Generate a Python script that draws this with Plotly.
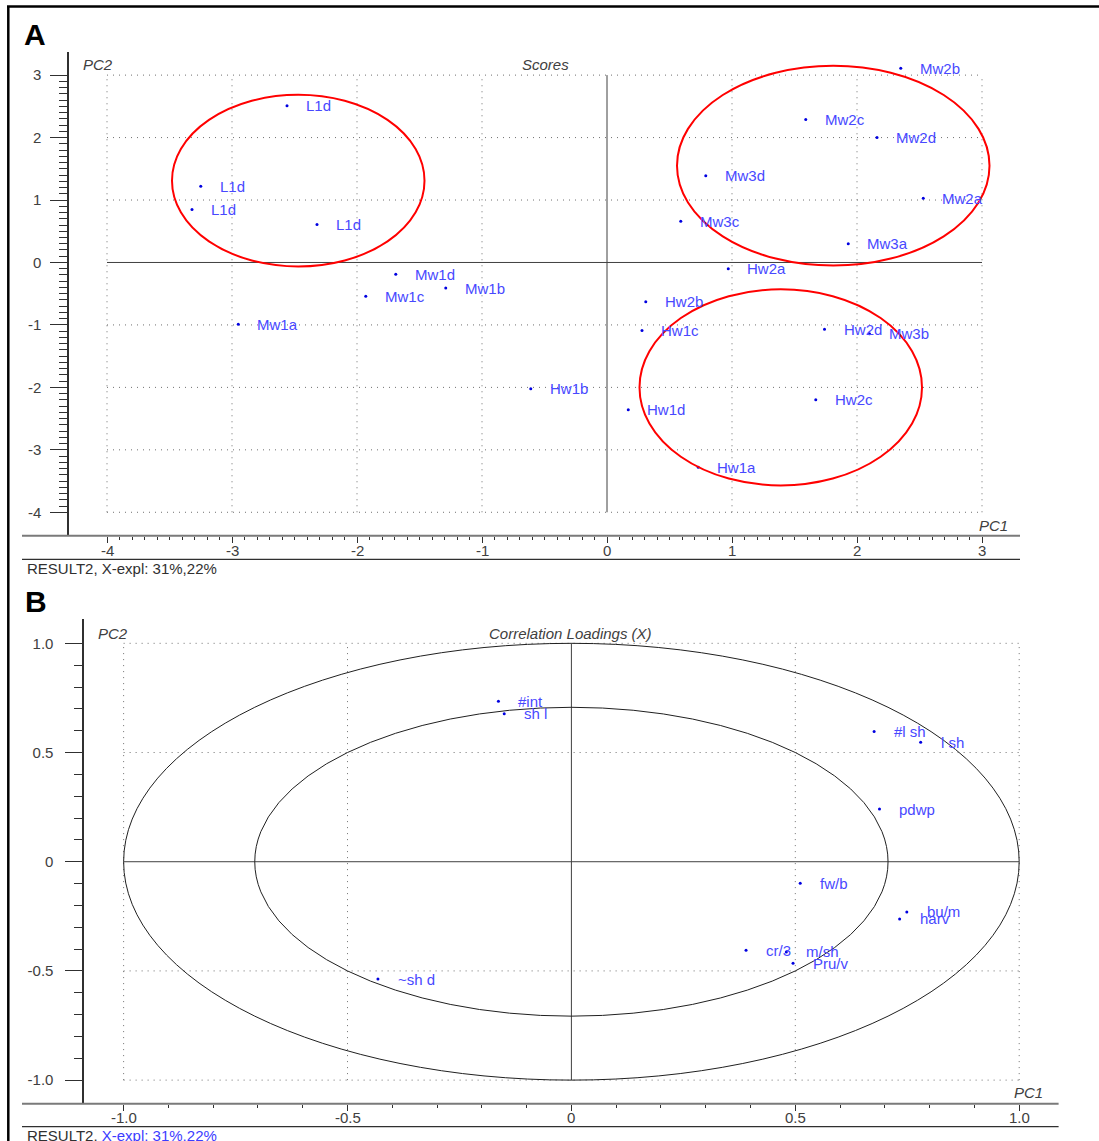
import plotly.graph_objects as go

W, H = 1099, 1141

# ---------------- Panel A: Scores ----------------
score_labels = ["L1d", "L1d", "L1d", "L1d", "Mw1d", "Mw1b", "Mw1c", "Mw1a", "Hw1b",
                "Mw2b", "Mw2c", "Mw2d", "Mw3d", "Mw2a", "Mw3c", "Mw3a", "Hw2a",
                "Hw2b", "Hw1c", "Hw2d", "Mw3b", "Hw2c", "Hw1d", "Hw1a"]
score_pc1 = [-2.56, -3.25, -3.32, -2.32, -1.69, -1.29, -1.93, -2.95, -0.61,
             2.35, 1.59, 2.16, 0.79, 2.53, 0.59, 1.93, 0.97,
             0.31, 0.28, 1.74, 2.10, 1.67, 0.17, 0.73]
score_pc2 = [2.51, 1.22, 0.85, 0.61, -0.19, -0.41, -0.54, -0.99, -2.02,
             3.11, 2.29, 2.00, 1.39, 1.03, 0.66, 0.30, -0.10,
             -0.63, -1.09, -1.07, -1.14, -2.20, -2.36, -3.28]

# group ellipses (centre / semi-axes, in score units)
group_cx = [-2.47, 1.81, 1.39]
group_cy = [1.31, 1.55, -2.00]
group_rx = [1.01, 1.25, 1.13]
group_ry = [1.375, 1.60, 1.57]

a_ticks = [-4, -3, -2, -1, 0, 1, 2, 3]
a_ticktext = ["-4", "-3", "-2", "-1", "0", "1", "2", "3"]

# ---------------- Panel B: Correlation loadings ----------------
load_labels = ["#int", "sh l", "#l sh", "l sh", "pdwp", "fw/b", "bu/m", "harv",
               "cr/3", "m/sh", "Pru/v", "~sh d"]
load_pc1 = [-0.163, -0.150, 0.676, 0.780, 0.688, 0.511, 0.749, 0.733,
            0.390, 0.480, 0.495, -0.432]
load_pc2 = [0.735, 0.678, 0.596, 0.547, 0.241, -0.099, -0.230, -0.262,
            -0.405, -0.413, -0.465, -0.537]
circle_radii = [1.0, 0.7071]

b_ticks = [-1.0, -0.5, 0, 0.5, 1.0]
b_ticktext = ["-1.0", "-0.5", "0", "0.5", "1.0"]

explained = "X-expl: 31%,22%"

# ---------------- styling ----------------
FONT = "Arial, Liberation Sans, Arimo, sans-serif"
LABEL_BLUE = "#4848ff"
DOT_BLUE = "#0000e0"
TXT = "#404040"


def px(x):
    return x / W


def py(y):
    return 1 - y / H


fig = go.Figure()

fig.add_trace(go.Scatter(x=score_pc1, y=score_pc2, mode="markers",
                         marker=dict(size=3, color=DOT_BLUE),
                         xaxis="x", yaxis="y", hoverinfo="skip", showlegend=False))
fig.add_trace(go.Scatter(x=load_pc1, y=load_pc2, mode="markers",
                         marker=dict(size=3, color=DOT_BLUE),
                         xaxis="x2", yaxis="y2", hoverinfo="skip", showlegend=False))

shapes = []
annotations = []

# ---- grid + zero lines (bounded to tick range) ----
def grid(ticks, xref, yref):
    lo, hi = min(ticks), max(ticks)
    for t in ticks:
        if t == 0:
            style = dict(color="#404040", width=1)
        else:
            style = dict(color="#707070", width=1, dash="1px,5px")
        shapes.append(dict(type="line", xref=xref, yref=yref, x0=t, x1=t, y0=lo, y1=hi,
                           line=style, layer="below"))
        shapes.append(dict(type="line", xref=xref, yref=yref, x0=lo, x1=hi, y0=t, y1=t,
                           line=style, layer="below"))


grid(a_ticks, "x", "y")
grid(b_ticks, "x2", "y2")

# ---- ellipses ----
for cx, cy, rx, ry in zip(group_cx, group_cy, group_rx, group_ry):
    shapes.append(dict(type="circle", xref="x", yref="y",
                       x0=cx - rx, x1=cx + rx, y0=cy - ry, y1=cy + ry,
                       line=dict(color="#ff0000", width=2)))
for r in circle_radii:
    shapes.append(dict(type="circle", xref="x2", yref="y2",
                       x0=-r, x1=r, y0=-r, y1=r,
                       line=dict(color="#202020", width=1)))

# ---- frame and baseline rules ----
def hline(y, x0, x1, color, width):
    shapes.append(dict(type="line", xref="paper", yref="paper",
                       x0=px(x0), x1=px(x1), y0=py(y), y1=py(y),
                       line=dict(color=color, width=width)))


hline(6.5, 7, 1099, "#000000", 2.5)
shapes.append(dict(type="line", xref="paper", yref="paper",
                   x0=px(8.3), x1=px(8.3), y0=py(6), y1=0,
                   line=dict(color="#000000", width=2.5)))
hline(535.7, 22, 1020, "#7a7a7a", 2)
hline(559.3, 22, 1020, "#303030", 1.2)
hline(1103.7, 22, 1058.6, "#7a7a7a", 2)
hline(1126.7, 22, 1058.6, "#303030", 1.2)

# ---- point labels ----
for lab, x, y in zip(score_labels, score_pc1, score_pc2):
    annotations.append(dict(x=x, y=y, xref="x", yref="y", text=lab, showarrow=False,
                            xanchor="left", yanchor="middle", xshift=17, yshift=0,
                            font=dict(family=FONT, size=15, color=LABEL_BLUE)))
for lab, x, y in zip(load_labels, load_pc1, load_pc2):
    annotations.append(dict(x=x, y=y, xref="x2", yref="y2", text=lab, showarrow=False,
                            xanchor="left", yanchor="middle", xshift=18, yshift=0,
                            font=dict(family=FONT, size=15, color=LABEL_BLUE)))

# ---- x tick labels (placed just under the axis rule, above the lower rule) ----
for t, lab in zip(a_ticks, a_ticktext):
    annotations.append(dict(x=t, y=py(550.5), xref="x", yref="paper", text=lab,
                            showarrow=False, xanchor="center", yanchor="middle",
                            font=dict(family=FONT, size=15, color=TXT)))
for t, lab in zip(b_ticks, b_ticktext):
    annotations.append(dict(x=t, y=py(1117.5), xref="x2", yref="paper", text=lab,
                            showarrow=False, xanchor="center", yanchor="middle",
                            font=dict(family=FONT, size=15, color=TXT)))


def ptext(text, x, y, size=15, color=TXT, italic=False, bold=False, xanchor="left"):
    t = text
    if bold:
        t = "<b>" + t + "</b>"
    if italic:
        t = "<i>" + t + "</i>"
    annotations.append(dict(x=px(x), y=py(y), xref="paper", yref="paper", text=t,
                            showarrow=False, xanchor=xanchor, yanchor="middle",
                            font=dict(family=FONT, size=size, color=color)))


ptext("A", 22, 34, size=30, color="#000000", bold=True)
ptext("B", 23, 601, size=30, color="#000000", bold=True)
ptext("PC2", 81, 64, italic=True)
ptext("Scores", 545, 64, italic=True, xanchor="center")
ptext("PC1", 977, 525, italic=True)
ptext("RESULT2, " + explained, 25, 568.5, color="#303030")
ptext("PC2", 96, 633, italic=True)
ptext("Correlation Loadings (X)", 570, 633, italic=True, xanchor="center")
ptext("PC1", 1012, 1092, italic=True)
ptext("RESULT2, <span style='color:#3c3cff'>" + explained + "</span>", 25, 1135, color="#303030")

# ---------------- axes ----------------
tickfont = dict(family=FONT, size=15, color=TXT)

a_minor = [i / 10 for i in range(-40, 31)]
b_minor = [i / 10 for i in range(-10, 11)]

common_x = dict(showgrid=False, zeroline=False, showline=False, ticks="outside",
                ticklen=6, tickwidth=1, tickcolor="#303030", showticklabels=False)
common_y = dict(showgrid=False, zeroline=False, showline=True, linecolor="#303030",
                linewidth=1.5, ticks="outside", ticklen=17, tickwidth=1,
                tickcolor="#303030", tickfont=tickfont)

fig.update_layout(
    width=W, height=H,
    margin=dict(l=0, r=0, t=0, b=0),
    paper_bgcolor="white", plot_bgcolor="white",
    showlegend=False,
    xaxis=dict(domain=[px(69), px(1020)], range=[-4.304, 3.304], anchor="y",
               tickmode="array", tickvals=a_ticks,
               minor=dict(tickmode="array", tickvals=a_minor, ticks="outside", ticklen=3,
                          tickcolor="#303030", showgrid=False),
               **common_x),
    yaxis=dict(domain=[py(535.7), py(51.7)], range=[-4.375, 3.375], anchor="x",
               tickmode="array", tickvals=a_ticks, ticktext=a_ticktext,
               ticklabelstandoff=6,
               minor=dict(tickmode="array", tickvals=a_minor, ticks="outside", ticklen=8,
                          tickcolor="#303030", showgrid=False),
               **common_y),
    xaxis2=dict(domain=[px(84.2), px(1058.6)], range=[-1.088, 1.088], anchor="y2",
                tickmode="array", tickvals=b_ticks,
                minor=dict(tickmode="array", tickvals=b_minor, ticks="outside", ticklen=3,
                           tickcolor="#303030", showgrid=False),
                **common_x),
    yaxis2=dict(domain=[py(1103.7), py(619.3)], range=[-1.108, 1.110], anchor="x2",
                tickmode="array", tickvals=b_ticks, ticktext=b_ticktext,
                ticklabelstandoff=9,
                minor=dict(tickmode="array", tickvals=b_minor, ticks="outside", ticklen=8,
                           tickcolor="#303030", showgrid=False),
                **common_y),
    shapes=shapes,
    annotations=annotations,
)

fig.write_html("out.html")
